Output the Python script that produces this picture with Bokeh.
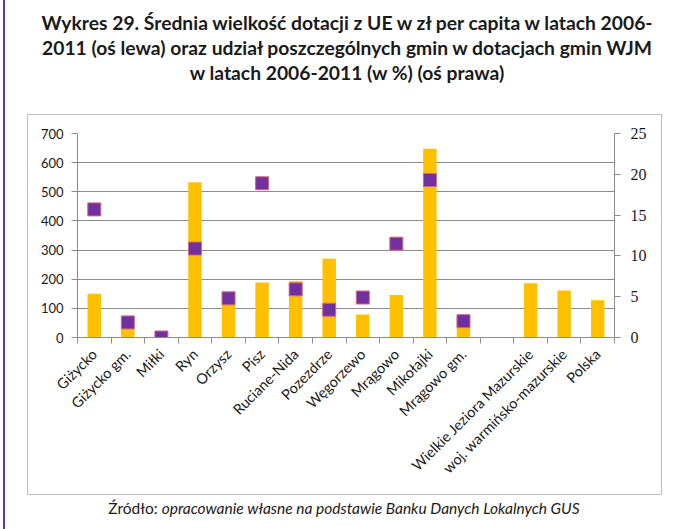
import math
from bokeh.plotting import figure
from bokeh.layouts import column
from bokeh.models import Range1d, LinearAxis, FixedTicker, LinearScale, ColumnDataSource, Div
from bokeh.embed import file_html
from bokeh.resources import INLINE

categories = ["Giżycko", "Giżycko gm.", "Miłki", "Ryn", "Orzysz", "Pisz", "Ruciane-Nida",
              "Pozezdrze", "Węgorzewo", "Mrągowo", "Mikołajki", "Mrągowo gm.", "",
              "Wielkie Jeziora Mazurskie", "woj. warmińsko-mazurskie", "Polska"]
per_capita = [150, 40, 0, 533, 145, 189, 193, 270, 79, 146, 648, 70, float("nan"), 186, 161, 128]
share_pct = [15.7, 1.85, 0.0, 10.9, 4.8, 18.9, 5.9, 3.4, 4.9, 11.5, 19.3, 2.0,
             float("nan"), float("nan"), float("nan"), float("nan")]
left_ticks = [0, 100, 200, 300, 400, 500, 600, 700]
right_ticks = [0, 5, 10, 15, 20, 25]

title_lines = ["Wykres 29. Średnia wielkość dotacji z UE w zł per capita w latach 2006-",
               "2011 (oś lewa) oraz udział poszczególnych gmin w dotacjach gmin WJM",
               "w latach 2006-2011 (w %) (oś prawa)"]
source_prefix = "Źródło:"
source_text = "opracowanie własne na podstawie Banku Danych Lokalnych GUS"

n = len(categories)
idx = list(range(n))
label_ticks = [i for i, c in enumerate(categories) if c]

W = 681
TITLE_H, PLOT_H, SRC_H = 114, 381, 34
FL, FR, FT, FB = 77, 614, 19, 223     # frame edges inside the figure
GRID = "#8C8C8C"
FONT = "Lato"

p = figure(width=W, height=PLOT_H, output_backend="svg", toolbar_location=None, title=None,
           x_range=Range1d(-0.5, n - 0.5), y_range=Range1d(0, 700),
           x_axis_location=None, y_axis_location="left",
           min_border_left=FL, min_border_right=W - FR, min_border_top=FT,
           min_border_bottom=PLOT_H - FB, margin=(0, 0, 0, 0))
p.outline_line_color = None
p.background_fill_color = "white"
p.border_fill_color = "white"
p.border_fill_alpha = 0

p.extra_y_ranges = {"pct": Range1d(0, 25)}
p.extra_y_scales = {"pct": LinearScale()}

src = ColumnDataSource(dict(x=idx, cat=categories, v=per_capita, s=share_pct))
p.vbar(x="x", top="v", width=0.4, source=src, fill_color="#FFC000", line_color=None)
p.scatter(x="x", y="s", source=src, y_range_name="pct", marker="square", size=13,
          fill_color="#7030A0", line_color="#D9667A", line_width=1)

# left axis
ya = p.yaxis[0]
ya.ticker = FixedTicker(ticks=left_ticks)
ya.axis_line_color = GRID
ya.major_tick_line_color = GRID
ya.major_tick_out = 6
ya.major_tick_in = 0
ya.minor_tick_line_color = None
ya.major_label_text_font = FONT
ya.major_label_text_font_size = "13px"
ya.major_label_text_color = "#1a1a1a"
ya.major_label_standoff = 8
p.ygrid.grid_line_color = GRID
p.ygrid.ticker = FixedTicker(ticks=left_ticks)
p.xgrid.grid_line_color = None

# right axis
ra = LinearAxis(y_range_name="pct", ticker=FixedTicker(ticks=right_ticks))
ra.axis_line_color = GRID
ra.major_tick_line_color = GRID
ra.major_tick_out = 6
ra.major_tick_in = 0
ra.minor_tick_line_color = None
ra.major_label_text_font = "Liberation Serif"
ra.major_label_text_font_size = "16px"
ra.major_label_text_color = "#1a1a1a"
ra.major_label_standoff = 10
p.add_layout(ra, "right")

# category axis: labels at centres, tick marks between categories
ca = LinearAxis(ticker=FixedTicker(ticks=label_ticks,
                                   minor_ticks=[i - 0.5 for i in range(n + 1)]))
ca.major_label_overrides = {i: categories[i] for i in label_ticks}
ca.axis_line_color = GRID
ca.major_tick_line_color = None
ca.major_tick_out = 0
ca.major_tick_in = 0
ca.minor_tick_line_color = GRID
ca.minor_tick_out = 6
ca.minor_tick_in = 0
ca.major_label_orientation = math.pi / 4
ca.major_label_text_font = FONT
ca.major_label_text_font_size = "14.5px"
ca.major_label_text_color = "#1a1a1a"
ca.major_label_standoff = 8
p.add_layout(ca, "below")

title_html = (
    "<div style='position:fixed;left:3px;top:0;width:2px;height:529px;background:#7030A0;"
    "z-index:10;pointer-events:none'></div>"
    "<div style='position:fixed;left:27px;top:114px;width:635px;height:381px;"
    "box-sizing:border-box;border:1px solid #BFBFBF;z-index:10;pointer-events:none'></div>"
    "<div style='width:681px;box-sizing:border-box;padding:10px 0 0 13px;"
    "text-align:center;font-family:Lato;font-weight:bold;font-size:19.3px;"
    "line-height:25px;color:#1a1a1a;white-space:nowrap'>" + "<br>".join(title_lines) + "</div>")
title_div = Div(text=title_html, width=W, height=TITLE_H, margin=(0, 0, 0, 0))

source_html = ("<div style='width:681px;box-sizing:border-box;padding:3px 0 0 7px;"
               "text-align:center;font-family:Lato;font-size:15.5px;line-height:20px;"
               "color:#1a1a1a;white-space:nowrap'>" + source_prefix + " <i>" + source_text
               + "</i></div>")
source_div = Div(text=source_html, width=W, height=SRC_H, margin=(0, 0, 0, 0))

page = column(title_div, p, source_div, margin=(0, 0, 0, 0), spacing=0)

open("out.html", "w").write(file_html(page, INLINE))
